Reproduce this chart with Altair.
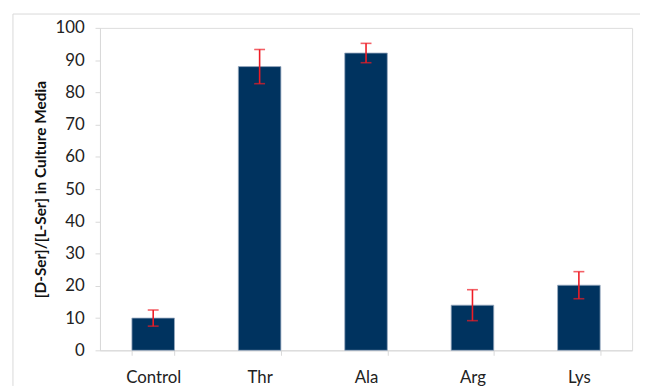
import altair as alt
import pandas as pd

categories = ["Control", "Thr", "Ala", "Arg", "Lys"]
values = [10.0, 88.0, 92.2, 14.0, 20.2]
errors = [2.5, 5.3, 3.0, 4.8, 4.2]
y_ticks = [0, 10, 20, 30, 40, 50, 60, 70, 80, 90, 100]

df = pd.DataFrame({
    "cat": categories,
    "val": values,
    "lo": [v - e for v, e in zip(values, errors)],
    "hi": [v + e for v, e in zip(values, errors)],
})

FONT = "Lato"
x_axis = alt.Axis(
    labelAngle=0, labelFont=FONT, labelFontSize=17, labelColor="#222222",
    labelPadding=15, tickBand="extent", tickSize=5, tickColor="#d9d9d9",
    domainColor="#d9d9d9", grid=False, labelOverlap=False,
)
x_scale = alt.Scale(paddingInner=0.6, paddingOuter=0.3)
y_scale = alt.Scale(domain=[0, 100], nice=False)
y_axis = alt.Axis(
    values=y_ticks, grid=False, labelFont=FONT, labelFontSize=17, labelColor="#222222",
    labelPadding=11, tickSize=5, tickColor="#d9d9d9", domainColor="#d9d9d9",
    labelOverlap=False, labelFlush=False,
    title="[D-Ser]/[L-Ser] in Culture Media", titleFont=FONT, titleFontSize=15.5,
    titleFontWeight="bold", titleColor="#111111", titlePadding=6,
)


def xenc():
    return alt.X("cat:N", sort=categories, title=None, scale=x_scale, axis=x_axis)


def yenc(field):
    return alt.Y(field, scale=y_scale, axis=y_axis)


base = alt.Chart(df)
bars = base.mark_bar(color="#00335F", stroke="#9aaac0", strokeWidth=0.8).encode(
    x=xenc(), y=yenc("val:Q")
)
err = base.mark_rule(color="#ee1c25", strokeWidth=1.6).encode(
    x=xenc(), y=yenc("lo:Q"), y2="hi:Q"
)
cap_hi = base.mark_tick(color="#ee1c25", thickness=1.6, size=11).encode(
    x=xenc(), y=yenc("hi:Q")
)
cap_lo = base.mark_tick(color="#ee1c25", thickness=1.6, size=11).encode(
    x=xenc(), y=yenc("lo:Q")
)

frame_df = pd.DataFrame({"k": [0]})
frame_left = alt.Chart(frame_df).mark_rule(color="#d9d9d9", strokeWidth=1).encode(
    x=alt.value(-88), y=alt.value(-14), y2=alt.value(362)
)
frame_top = alt.Chart(frame_df).mark_rule(color="#d9d9d9", strokeWidth=1).encode(
    x=alt.value(-88), x2=alt.value(546), y=alt.value(-14)
)

chart = alt.layer(frame_left, frame_top, bars, err, cap_hi, cap_lo).properties(
    width=538, height=326,
    padding={"left": 4, "top": 3, "right": 0, "bottom": 0},
).configure_view(stroke=None).configure(background="white")

chart.save("out.html", embed_options={"renderer": "svg", "actions": False})
